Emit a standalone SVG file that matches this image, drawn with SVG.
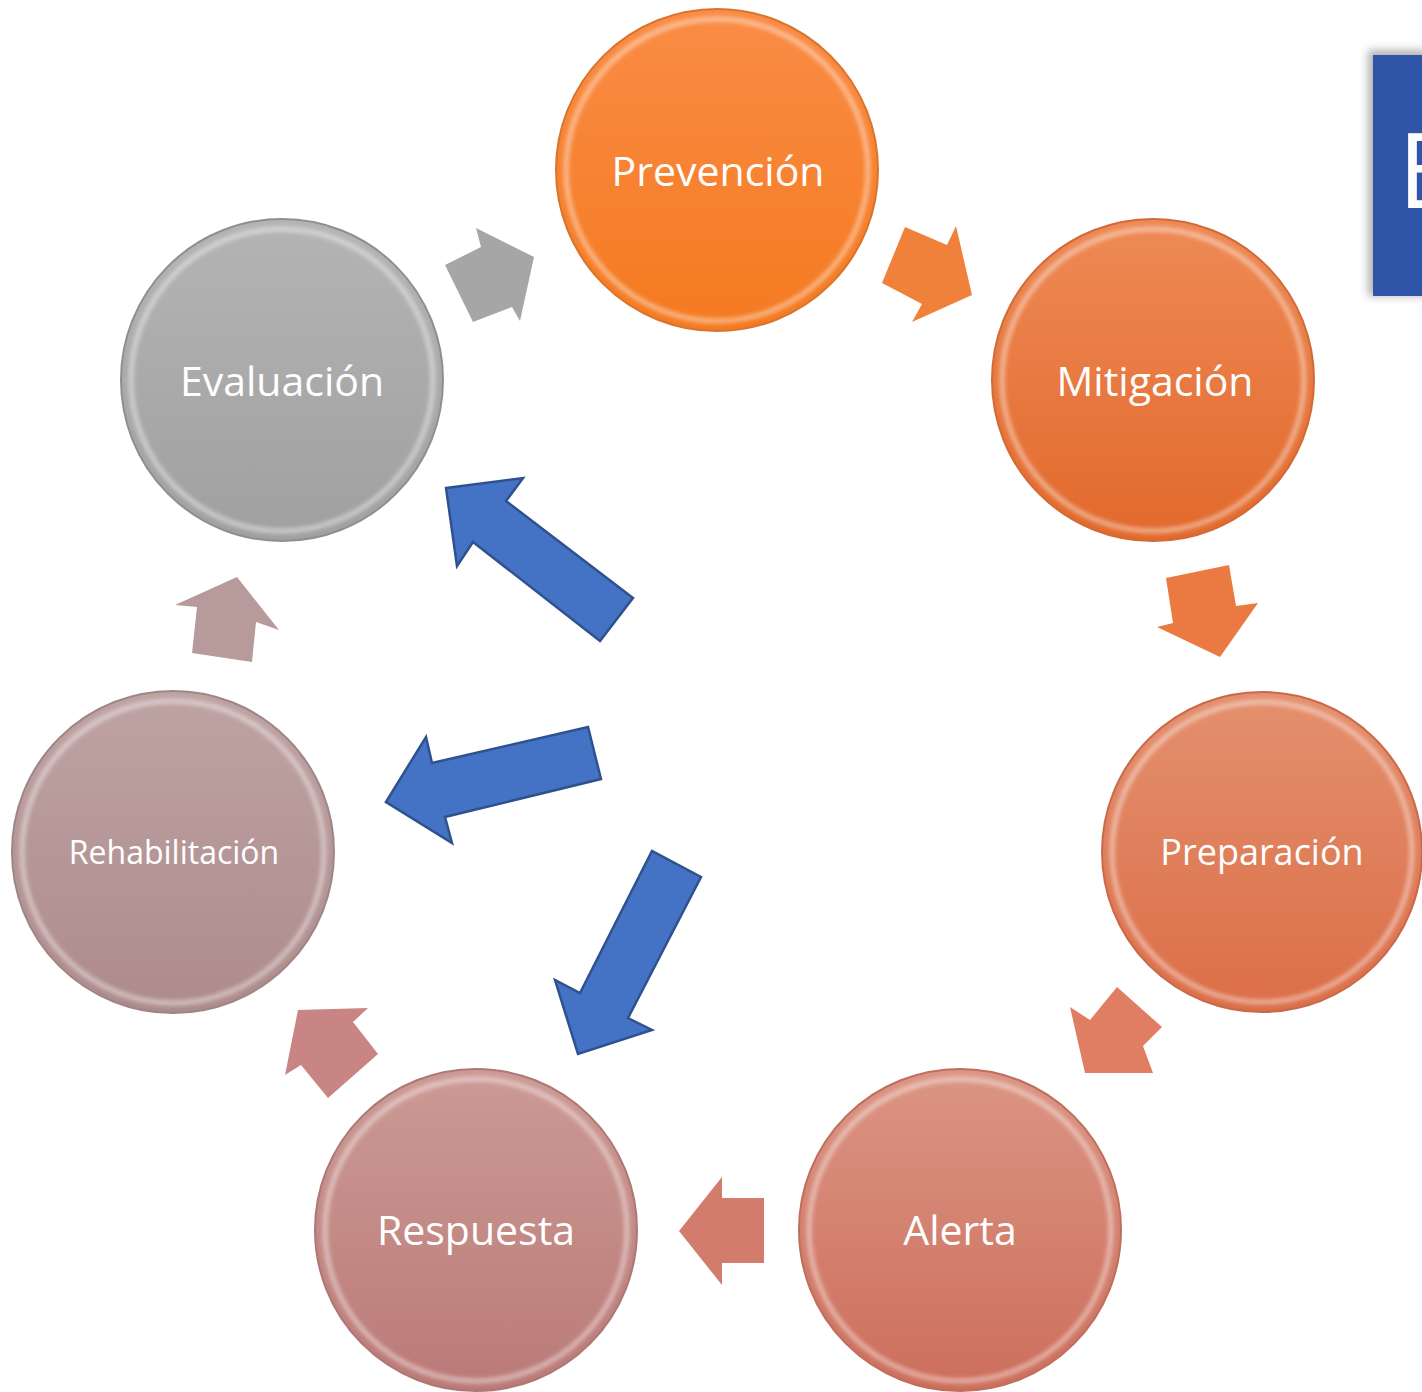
<svg xmlns="http://www.w3.org/2000/svg" width="1422" height="1392" viewBox="0 0 1422 1392">
<style>
  .lbl { font-family: "Open Sans", "Noto Sans", "Liberation Sans", sans-serif; fill: #ffffff; text-anchor: middle; }
  .rim { fill: none; stroke: #ffffff; stroke-opacity: 0.45; stroke-width: 5; }
  .blue { fill: #4472C4; stroke: #2F528F; stroke-width: 2.5; stroke-linejoin: miter; }
</style>
<defs>
  <linearGradient id="gPrev" x1="0" y1="0" x2="0" y2="1"><stop offset="0" stop-color="#FA8C46"/><stop offset="1" stop-color="#F47A20"/></linearGradient>
  <linearGradient id="gMit" x1="0" y1="0" x2="0" y2="1"><stop offset="0" stop-color="#EE8A56"/><stop offset="1" stop-color="#E2692C"/></linearGradient>
  <linearGradient id="gPrep" x1="0" y1="0" x2="0" y2="1"><stop offset="0" stop-color="#E4906E"/><stop offset="1" stop-color="#DB6E48"/></linearGradient>
  <linearGradient id="gAle" x1="0" y1="0" x2="0" y2="1"><stop offset="0" stop-color="#DB9584"/><stop offset="1" stop-color="#CD6E5C"/></linearGradient>
  <linearGradient id="gRes" x1="0" y1="0" x2="0" y2="1"><stop offset="0" stop-color="#CC9A95"/><stop offset="1" stop-color="#BA7A77"/></linearGradient>
  <linearGradient id="gReh" x1="0" y1="0" x2="0" y2="1"><stop offset="0" stop-color="#BEA3A3"/><stop offset="1" stop-color="#AE8B8B"/></linearGradient>
  <linearGradient id="gEva" x1="0" y1="0" x2="0" y2="1"><stop offset="0" stop-color="#B4B4B4"/><stop offset="1" stop-color="#A0A0A0"/></linearGradient>
  <filter id="soft" x="-10%" y="-10%" width="120%" height="120%"><feGaussianBlur stdDeviation="2"/></filter>
  <filter id="shadow" x="-20%" y="-20%" width="140%" height="140%"><feGaussianBlur stdDeviation="4"/></filter>
</defs>
<rect width="1422" height="1392" fill="#ffffff"/>

<g id="title-box">
  <rect x="1368" y="50" width="60" height="246" fill="#555555" opacity="0.45" filter="url(#shadow)"/>
  <rect x="1373" y="55" width="55" height="241" fill="#2F55A8"/>
  <text x="1398" y="208" font-family="Open Sans, Noto Sans, sans-serif" font-size="104" fill="#ffffff">E</text>
</g>

<g id="connectors">
  <polygon points="445,265 481,247 476,228 534,257 520,321 512,307 473,322" fill="#A6A6A6"/>
  <polygon points="882,283 905,227 947,245 956,226 972,295 912,322 922,304" fill="#F0813A"/>
  <polygon points="1166,578 1229,565 1236,606 1258,603 1220,657 1157,627 1173,623" fill="#EB7A42"/>
  <polygon points="1117,987 1162,1027 1143,1046 1153,1073 1085,1073 1070,1007 1090,1020" fill="#DF7E62"/>
  <polygon points="764,1198 764,1263 722,1263 722,1285 679,1231 722,1177 722,1198" fill="#D17C6C"/>
  <polygon points="378,1054 328,1098 301,1065 285,1075 298,1010 368,1008 353,1022" fill="#C88583"/>
  <polygon points="192,653 252,662 256,622 279,630 237,577 175,605 197,607" fill="#B79A9A"/>
  <polygon class="blue" points="446,488 523,478 506,501 633,598 600,641 473,542 457,566"/>
  <polygon class="blue" points="386,802 426,737 432,763 588,727 601,779 445,817 452,843"/>
  <polygon class="blue" points="578,1054 555,980 580,993 652,851 701,877 628,1018 652,1030"/>
</g>

<g id="node-prevencion">
  <circle cx="717" cy="170" r="161" fill="url(#gPrev)" stroke="#D9742C" stroke-width="2"/>
  <circle class="rim" cx="717" cy="170" r="151" filter="url(#soft)"/>
  <text class="lbl" x="718" y="186" font-size="41">Prevención</text>
</g>
<g id="node-mitigacion">
  <circle cx="1153" cy="380" r="161" fill="url(#gMit)" stroke="#D06A36" stroke-width="2"/>
  <circle class="rim" cx="1153" cy="380" r="151" filter="url(#soft)"/>
  <text class="lbl" x="1155" y="396" font-size="41">Mitigación</text>
</g>
<g id="node-preparacion">
  <circle cx="1262" cy="852" r="160" fill="url(#gPrep)" stroke="#C9694A" stroke-width="2"/>
  <circle class="rim" cx="1262" cy="852" r="150" filter="url(#soft)"/>
  <text class="lbl" x="1262" y="865" font-size="36">Preparación</text>
</g>
<g id="node-alerta">
  <circle cx="960" cy="1230" r="161" fill="url(#gAle)" stroke="#BF6E5E" stroke-width="2"/>
  <circle class="rim" cx="960" cy="1230" r="151" filter="url(#soft)"/>
  <text class="lbl" x="960" y="1245" font-size="41">Alerta</text>
</g>
<g id="node-respuesta">
  <circle cx="476" cy="1230" r="161" fill="url(#gRes)" stroke="#AD7774" stroke-width="2"/>
  <circle class="rim" cx="476" cy="1230" r="151" filter="url(#soft)"/>
  <text class="lbl" x="476" y="1245" font-size="41">Respuesta</text>
</g>
<g id="node-rehabilitacion">
  <circle cx="173" cy="852" r="161" fill="url(#gReh)" stroke="#9F8585" stroke-width="2"/>
  <circle class="rim" cx="173" cy="852" r="151" filter="url(#soft)"/>
  <text class="lbl" x="174" y="864" font-size="32">Rehabilitación</text>
</g>
<g id="node-evaluacion">
  <circle cx="282" cy="380" r="161" fill="url(#gEva)" stroke="#8F8F8F" stroke-width="2"/>
  <circle class="rim" cx="282" cy="380" r="151" filter="url(#soft)"/>
  <text class="lbl" x="282" y="396" font-size="41">Evaluación</text>
</g>
</svg>
